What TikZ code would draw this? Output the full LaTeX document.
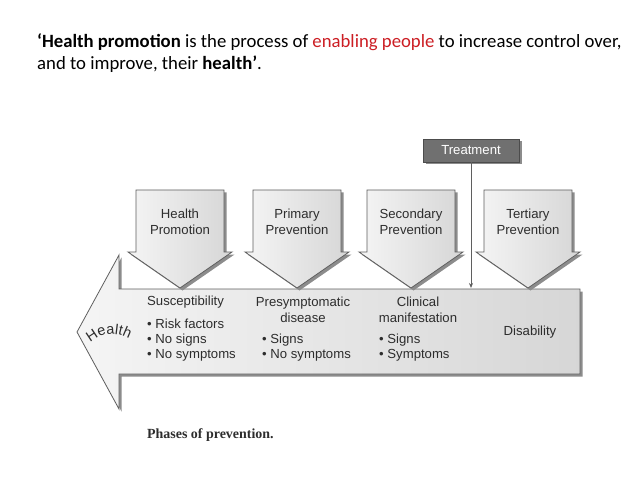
\documentclass[tikz,border=0pt]{standalone}
\usepackage{fontspec}
\setmainfont{Liberation Sans}
\newfontfamily\calibri{Carlito}
\newfontfamily\capfont{Liberation Serif}
\usepackage{xcolor}
\usetikzlibrary{arrows.meta, shadows, decorations.text, positioning}

\definecolor{inkgray}{RGB}{45,45,45}
\definecolor{edgegray}{RGB}{95,95,95}
\definecolor{treatgray}{RGB}{112,112,112}
\definecolor{redtext}{RGB}{204,30,36}

\tikzset{
  phase/.style={draw=edgegray, line width=0.8bp, left color=black!4, right color=black!16,
    drop shadow={shadow xshift=2.5bp, shadow yshift=-2.5bp, fill=black!45, opacity=1}},
  lbl/.style={font=\fontsize{13.2}{15.5}\selectfont, text=inkgray, inner sep=0pt, align=center},
  lst/.style={font=\fontsize{13.2}{15.5}\selectfont, text=inkgray, inner sep=0pt, anchor=base west},
  defn/.style={font=\calibri\fontsize{18.8}{22}\selectfont, inner sep=0pt, anchor=base west}
}

\begin{document}
\begin{tikzpicture}[x=1bp, y=-1bp]
  \fill[white] (0,0) rectangle (638,479);
  \useasboundingbox (0,0) rectangle (638,479);

  \node[defn] (def1) at (37,48) {\textbf{‘Health promotion} is the process of \textcolor{redtext}{enabling people} to increase control over,};
  \node[defn] (def2) at (37,70) {and to improve, their \textbf{health’}.};

  % big arrow pointing back to health
  \path[phase] (580,289) -- (119,289) -- (119,255) -- (77,332) -- (119,409) -- (119,374) -- (580,374) -- cycle;

  \foreach \cx/\name/\txt in {180/hp/{Health\\Promotion}, 297/pp/{Primary\\Prevention},
      411/sp/{Secondary\\Prevention}, 528/tp/{Tertiary\\Prevention}} {
    \path[phase] (\cx-44,190) -- (\cx+44,190) -- (\cx+44,252) -- (\cx+52,252)
      -- (\cx,288) -- (\cx-52,252) -- (\cx-44,252) -- cycle;
    \node[lbl] (\name) at (\cx,222) {\txt};
  }

  \node[draw=black!70, fill=treatgray, text=white, minimum width=96bp, minimum height=23bp,
    inner sep=0pt, font=\fontsize{13.2}{15.5}\selectfont,
    drop shadow={shadow xshift=2.5bp, shadow yshift=-2.5bp, fill=black!45, opacity=1}] (treat) at (471,150.5) {Treatment};
  \coordinate (hit) at (471,288);
  \draw[edgegray, line width=0.8bp, -{Stealth[length=5bp, width=4bp]}] (treat) -- (hit);

  \path[decorate, decoration={text along path, text align=center, text color=inkgray,
    text={|\fontsize{14.5}{15}\selectfont|Health}}] (87,346) .. controls (101,331) and (119,331) .. (133,341);

  \node[lst] (sus) at (147,305) {Susceptibility};
  \node[lst] (sus1) at (147,328) {• Risk factors};
  \node[lst] (sus2) at (147,343) {• No signs};
  \node[lst] (sus3) at (147,358) {• No symptoms};

  \node[lbl, anchor=base] (pre) at (303,306) {Presymptomatic};
  \node[lbl, anchor=base] (pre0) at (303,322) {disease};
  \node[lst] (pre1) at (262,343) {• Signs};
  \node[lst] (pre2) at (262,358) {• No symptoms};

  \node[lbl, anchor=base] (cli) at (418,306) {Clinical};
  \node[lbl, anchor=base] (cli0) at (418,322) {manifestation};
  \node[lst] (cli1) at (379,343) {• Signs};
  \node[lst] (cli2) at (379,358) {• Symptoms};

  \node[lbl, anchor=base] (dis) at (530,335) {Disability};

  \node[anchor=base west, inner sep=0pt, text=inkgray, font=\capfont\bfseries\fontsize{14}{16}\selectfont] (cap) at (147,438) {Phases of prevention.};
\end{tikzpicture}
\end{document}
